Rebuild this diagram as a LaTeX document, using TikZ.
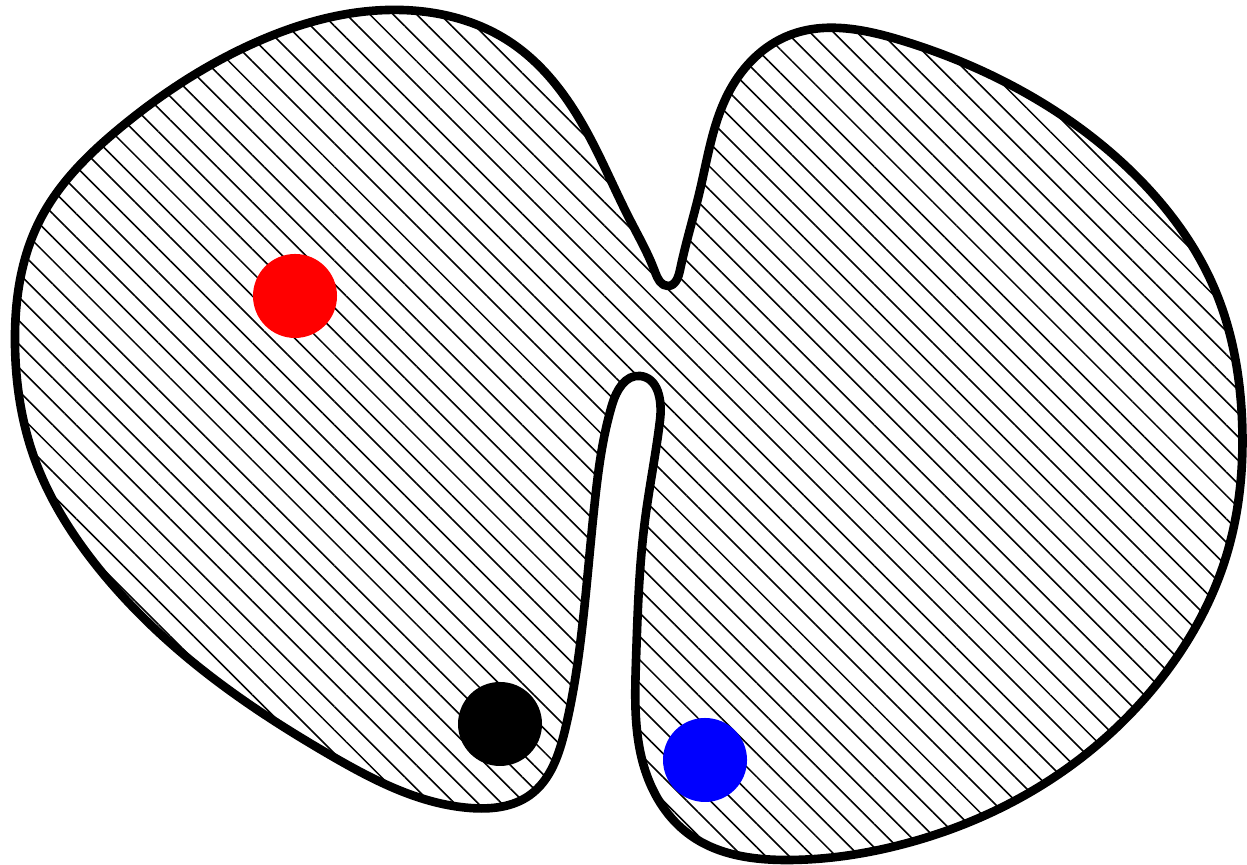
\documentclass[tikz,border=0pt]{standalone}
\usetikzlibrary{patterns.meta, hobby}
\definecolor{pureblue}{RGB}{0, 0, 255}
\definecolor{purered}{RGB}{255, 0, 0}

\begin{document}
\begin{tikzpicture}[x=0.449cm, y=0.449cm, line join=round]

    \def\r{0.42}

    % --- marco ---
    \useasboundingbox (0,0) rectangle (12.47,8.65);

    % --- region ---
    \draw[line width=1.1pt, use Hobby shortcut, closed=true,
          pattern={Lines[angle=-45, distance=2.12pt, line width=0.2pt]}]
        (4.70,0.57) .. (3.30,1.10) .. (2.00,1.97) .. (1.00,2.95) .. (0.35,4.05)
        .. (0.15,5.20) .. (0.40,6.45) .. (1.20,7.37) .. (2.50,8.20) .. (4.00,8.55)
        .. (5.10,8.23) .. (5.80,7.45) .. (6.30,6.45) .. (6.55,5.93) .. (6.68,5.79)
        .. (6.80,5.95) .. (7.00,6.75) .. (7.30,7.75) .. (7.90,8.30) .. (9.00,8.25)
        .. (10.20,7.75) .. (11.40,6.85) .. (12.15,5.75) .. (12.42,4.45) .. (12.25,3.05)
        .. (11.60,1.85) .. (10.50,0.85) .. (9.00,0.20) .. (7.90,0.05) .. (6.90,0.30)
        .. (6.45,0.95) .. (6.36,2.05) .. (6.45,3.45) .. (6.60,4.45) .. (6.40,4.89)
        .. (6.12,4.60) .. (5.95,3.65) .. (5.83,2.45) .. (5.65,1.35) .. (5.30,0.70);

    % --- puntos ---
    \fill[purered]  (2.95,5.69) circle (\r);
    \fill[black]    (5.00,1.41) circle (\r);
    \fill[pureblue] (7.05,1.05) circle (\r);

\end{tikzpicture}
\end{document}
